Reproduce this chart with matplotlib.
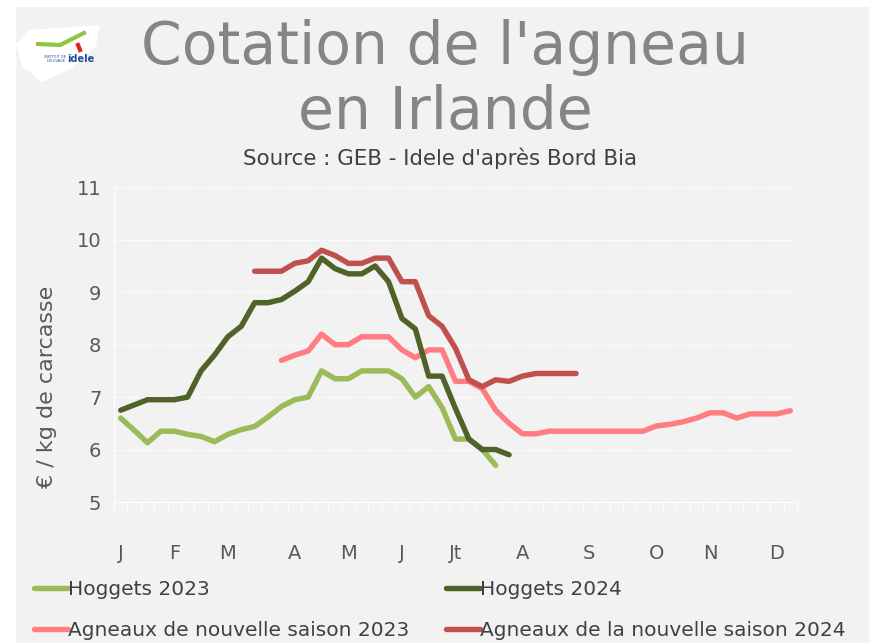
import matplotlib.pyplot as plt
import numpy as np
from matplotlib.patches import Rectangle, Polygon
from matplotlib.lines import Line2D

# weekly prices, euro / kg carcass
hoggets_2023 = [6.6, 6.37, 6.13, 6.35, 6.35, 6.29, 6.25, 6.15, 6.29, 6.38,
                6.44, 6.62, 6.82, 6.95, 7.0, 7.5, 7.35, 7.35, 7.5, 7.5,
                7.5, 7.35, 7.0, 7.2, 6.8, 6.2, 6.2, 6.0, 5.7]
hoggets_2024 = [6.75, 6.85, 6.95, 6.95, 6.95, 7.0, 7.5, 7.8, 8.15, 8.35,
                8.8, 8.8, 8.86, 9.02, 9.2, 9.65, 9.45, 9.35, 9.35, 9.5,
                9.2, 8.5, 8.3, 7.4, 7.4, 6.78, 6.2, 6.0, 6.0, 5.9]
agneaux_2023 = [7.7, 7.8, 7.88, 8.2, 8.0, 8.0, 8.15, 8.15, 8.15, 7.9,
                7.75, 7.9, 7.9, 7.3, 7.3, 7.16, 6.75, 6.5, 6.3, 6.3,
                6.35, 6.35, 6.35, 6.35, 6.35, 6.35, 6.35, 6.35,
                6.45, 6.48, 6.53, 6.6, 6.7, 6.7, 6.6, 6.68, 6.68, 6.68, 6.74]
agneaux_2024 = [9.4, 9.4, 9.4, 9.55, 9.6, 9.8, 9.7, 9.55, 9.55, 9.65,
                9.65, 9.2, 9.2, 8.55, 8.35, 7.93, 7.33, 7.2, 7.33, 7.3,
                7.4, 7.45, 7.45, 7.45, 7.45]
# first week of each series
start_h23, start_h24, start_a23, start_a24 = 0, 0, 12, 10
n_weeks = 51

months = ['J', 'F', 'M', 'A', 'M', 'J', 'Jt', 'A', 'S', 'O', 'N', 'D']
month_weeks = [0, 4, 8, 13, 17, 21, 25, 30, 35, 40, 44, 49]

series = [
    ('Hoggets 2023', hoggets_2023, start_h23, '#9BBB59'),
    ('Agneaux de nouvelle saison 2023', agneaux_2023, start_a23, '#FF7C80'),
    ('Hoggets 2024', hoggets_2024, start_h24, '#4F6228'),
    ('Agneaux de la nouvelle saison 2024', agneaux_2024, start_a24, '#C0504D'),
]

plt.rcParams['font.family'] = ['DejaVu Sans']
bg = '#f2f2f2'

fig = plt.figure(figsize=(8.7, 6.43), dpi=100, facecolor='white')
fig.patches.append(Rectangle((16 / 870, 0), 1, 1 - 7 / 643, transform=fig.transFigure,
                             facecolor=bg, edgecolor='none', zorder=-10))

ax = fig.add_axes([114 / 870, 1 - 502 / 643, (797 - 114) / 870, (502 - 187.3) / 643])
ax.set_facecolor(bg)

handles = []
for name, vals, start, col in series:
    x = np.arange(start, start + len(vals))
    ln, = ax.plot(x, vals, color=col, lw=3.9, solid_capstyle='round',
                  solid_joinstyle='round', label=name)
    handles.append(ln)

ax.set_xlim(-0.5, n_weeks - 0.5)
ax.set_ylim(5, 11)
ax.set_yticks(range(5, 12))
ax.grid(axis='y', color='white', lw=0.8, ls=(0, (4, 2)))
ax.set_axisbelow(True)
for s in ['top', 'right']:
    ax.spines[s].set_visible(False)
ax.spines['left'].set_color('white')
ax.spines['bottom'].set_color('white')
ax.spines['left'].set_linewidth(0.8)
ax.spines['bottom'].set_linewidth(0.8)

ax.set_xticks(month_weeks)
ax.set_xticklabels(months)
ax.set_xticks(np.arange(-0.5, n_weeks), minor=True)
ax.tick_params(axis='x', which='major', length=0, pad=30, labelsize=14, labelcolor='#595959')
ax.tick_params(axis='x', which='minor', length=6, color='white', width=0.8)
ax.tick_params(axis='y', length=0, pad=9, labelsize=14, labelcolor='#595959')

fig.text(47 / 870, 1 - 387 / 643, '€ / kg de carcasse', rotation=90, ha='center', va='center',
         fontsize=16, color='#595959')

fig.text(445 / 870, 1 - 47 / 643, "Cotation de l'agneau", ha='center', va='center',
         fontsize=42, color='#858585')
fig.text(445 / 870, 1 - 112 / 643, 'en Irlande', ha='center', va='center',
         fontsize=42, color='#858585')
fig.text(440 / 870, 1 - 158 / 643, "Source : GEB - Idele d'après Bord Bia", ha='center',
         va='center', fontsize=15.4, color='#404040')

# logo
pts = [(16, 44), (30, 30), (100, 25), (96, 46), (72, 68), (42, 82), (22, 66)]
logo = Polygon([(px / 870, 1 - py / 643) for px, py in pts], closed=True,
               transform=fig.transFigure, facecolor='white', edgecolor='none')
fig.patches.append(logo)
fig.lines.append(Line2D([38 / 870, 60 / 870, 84 / 870], [1 - 44 / 643, 1 - 45 / 643, 1 - 33 / 643],
                        transform=fig.transFigure, color='#8DC63F', lw=3))
fig.lines.append(Line2D([78 / 870, 80 / 870], [1 - 45 / 643, 1 - 50 / 643],
                        transform=fig.transFigure, color='#E2231A', lw=3))
fig.text(67 / 870, 1 - 59 / 643, 'idele', ha='left', va='center', fontsize=7,
         fontweight='bold', color='#1F4E9E')
fig.text(66 / 870, 1 - 59 / 643, "INSTITUT DE\nL'ÉLEVAGE", ha='right', va='center',
         fontsize=2.5, color='#1F4E9E', linespacing=1)

fig.legend(handles, [h.get_label() for h in handles], ncol=2, loc='upper left',
           bbox_to_anchor=(16 / 870, 1 - 562 / 643), frameon=False, fontsize=14.5,
           handlelength=1.7, handletextpad=0.0, columnspacing=1.8, labelspacing=1.1,
           labelcolor='#404040')

fig.savefig('out.png', dpi=100, facecolor=fig.get_facecolor())
